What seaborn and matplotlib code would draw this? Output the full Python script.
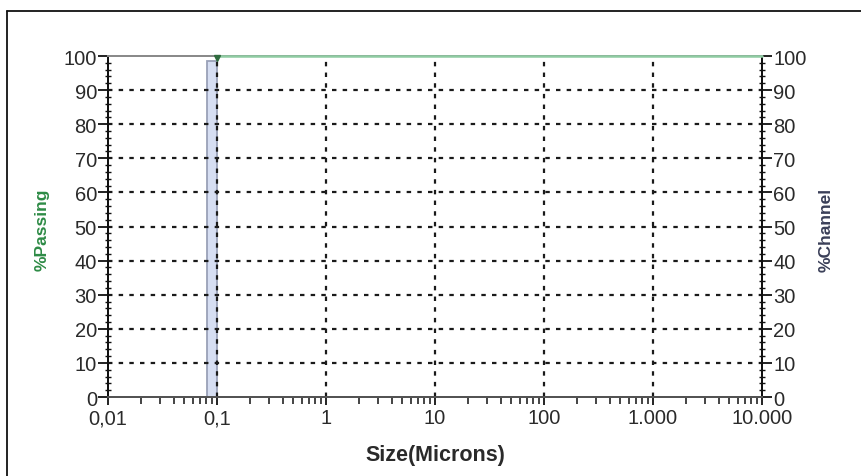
import numpy as np
import pandas as pd
import matplotlib
matplotlib.use("Agg")
import matplotlib.pyplot as plt
from matplotlib.lines import Line2D
from matplotlib.ticker import FixedLocator, LogLocator, MultipleLocator, NullFormatter
import seaborn as sns

# Particle size distribution: cumulative passing and per-channel volume
size_ticks = [0.01, 0.1, 1, 10, 100, 1000, 10000]
size_tick_labels = ["0,01", "0,1", "1", "10", "100", "1.000", "10.000"]
pct_ticks = [0, 10, 20, 30, 40, 50, 60, 70, 80, 90, 100]

passing_size = [0.1, 10000]
passing_pct = [100, 100]

channel_lo = [0.081]
channel_hi = [0.1]
channel_pct = [98.6]

sns.set_theme(style="white")
plt.rcParams["font.family"] = ["Liberation Sans", "DejaVu Sans"]

fig = plt.figure(figsize=(8.62, 4.77), dpi=100)
ax = fig.add_axes([0.1253, 0.1656, 0.7587, 0.7149])
ax2 = ax.twinx()

ax.set_xscale("log")
ax.set_xlim(0.01, 10000)
ax.set_ylim(0, 100)
ax2.set_ylim(0, 100)

# grid lines (dashed, inner only)
for y in pct_ticks[1:-1]:
    ax.axhline(y, color="#1a1a1a", lw=1.6, ls=(0, (2.0, 2.8)), zorder=1)
for x in size_ticks[1:-1]:
    ax.axvline(x, color="#1a1a1a", lw=1.6, ls=(0, (2.0, 2.8)), zorder=1)

# channel bar on the right axis
ax2.bar(channel_lo, channel_pct,
        width=[h - l for l, h in zip(channel_lo, channel_hi)],
        align="edge", color="#d6def2", edgecolor="#9aa1b8", linewidth=1.3, zorder=3)

# cumulative passing curve
df = pd.DataFrame({"size": passing_size, "passing": passing_pct})
sns.lineplot(data=df, x="size", y="passing", ax=ax, color="#8fcca2", lw=1.8,
             zorder=5, clip_on=False, legend=False)
ax.plot([passing_size[0]], [passing_pct[0] - 0.6], marker="v", ms=5,
        color="#2f6b3e", clip_on=False, zorder=6)
ax.set_zorder(ax2.get_zorder() + 1)
ax.patch.set_visible(False)

# x axis
ax.xaxis.set_major_locator(FixedLocator(size_ticks))
ax.set_xticklabels(size_tick_labels)
ax.xaxis.set_minor_locator(LogLocator(base=10, subs=np.arange(2, 10)))
ax.xaxis.set_minor_formatter(NullFormatter())
ax.tick_params(axis="x", which="major", direction="out", length=6, width=1.3,
               color="#111111", labelsize=14.5, labelcolor="#2a2a2a", pad=2, bottom=True)
ax.tick_params(axis="x", which="minor", direction="out", length=5, width=1.1,
               color="#111111", bottom=True)

# left y axis
ax.yaxis.set_major_locator(FixedLocator(pct_ticks))
ax.yaxis.set_minor_locator(MultipleLocator(2))
ax.tick_params(axis="y", which="major", direction="out", length=7, width=1.3,
               color="#111111", labelsize=14.5, labelcolor="#2a2a2a", pad=1, left=True)
ax.tick_params(axis="y", which="minor", direction="inout", length=5, width=1.0,
               color="#111111", left=True)

# right y axis
ax2.yaxis.set_major_locator(FixedLocator(pct_ticks))
ax2.yaxis.set_minor_locator(MultipleLocator(2))
ax2.tick_params(axis="y", which="major", direction="out", length=7, width=1.3,
                color="#111111", labelsize=14.5, labelcolor="#2a2a2a", pad=1, right=True)
ax2.tick_params(axis="y", which="minor", direction="inout", length=5, width=1.0,
                color="#111111", right=True)
ax2.grid(False)
ax.grid(False)

for a in (ax, ax2):
    for side in ("left", "right", "bottom"):
        a.spines[side].set_color("#111111")
        a.spines[side].set_linewidth(1.4)
    a.spines["top"].set_color("#8a8a8a")
    a.spines["top"].set_linewidth(1.4)
ax.spines["bottom"].set_color("#555555")

ax.set_xlabel("Size(Microns)", fontsize=15.5, fontweight="bold", color="#2a2a2a", labelpad=12)
ax.set_ylabel("")
ax2.set_ylabel("")
fig.text(0.049, 0.518, "%Passing", rotation=90, ha="center", va="center",
         fontsize=12.5, fontweight="bold", color="#2e8b46")
fig.text(0.958, 0.518, "%Channel", rotation=90, ha="center", va="center",
         fontsize=12.5, fontweight="bold", color="#3a3f58")

# outer frame (top and left edges)
fig.add_artist(Line2D([7 / 862, 1.0], [1 - 12 / 477, 1 - 12 / 477],
                      transform=fig.transFigure, color="#111111", lw=1.3))
fig.add_artist(Line2D([7 / 862, 7 / 862], [0.0, 1 - 12 / 477],
                      transform=fig.transFigure, color="#111111", lw=1.3))

fig.savefig("out.png", dpi=100, facecolor="white")
